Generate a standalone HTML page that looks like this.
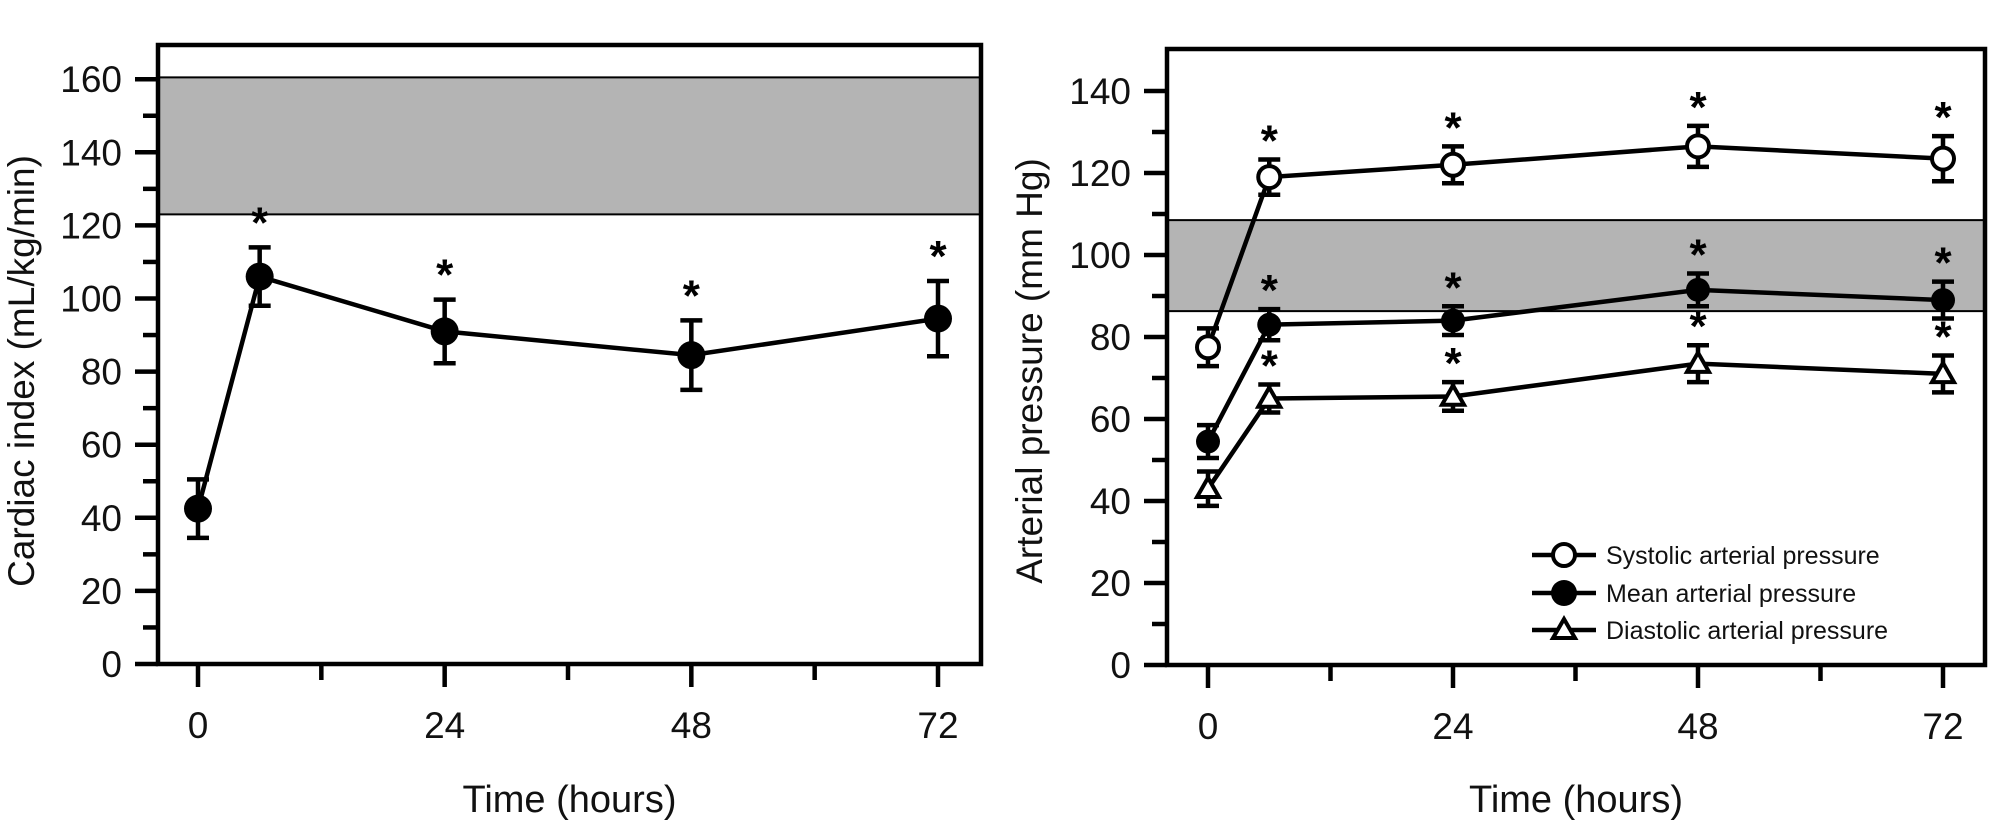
<!DOCTYPE html>
<html><head><meta charset="utf-8"><style>
html,body{margin:0;padding:0;background:#fff;}
svg{display:block;font-family:"Liberation Sans",Arial,sans-serif;}
</style></head><body>
<svg id="chart" width="2008" height="838" viewBox="0 0 2008 838" xmlns="http://www.w3.org/2000/svg">
</svg>
<script>
const hours = [0, 6, 24, 48, 72];
const ciMean = [42.5, 106, 91, 84.5, 94.5];
const ciErr = [8, 8, 8.7, 9.5, 10.3];
const ciSig = [false, true, true, true, true];
const ciBand = [123, 160.5];
const yTicksLeft = [0, 20, 40, 60, 80, 100, 120, 140, 160];
const yTicksRight = [0, 20, 40, 60, 80, 100, 120, 140];
const xTickLabels = [0, 24, 48, 72];
const sysMean = [77.5, 119, 122, 126.5, 123.5];
const sysErr = [4.6, 4.3, 4.5, 5, 5.5];
const mapMean = [54.5, 83, 84, 91.5, 89];
const mapErr = [4, 3.8, 3.5, 4, 4.5];
const diaMean = [43, 65, 65.5, 73.5, 71];
const diaErr = [4.2, 3.4, 3.5, 4.5, 4.5];
const apSig = [false, true, true, true, true];
const apBand = [86.3, 108.5];
const legendLabels = ["Systolic arterial pressure", "Mean arterial pressure", "Diastolic arterial pressure"];

const NS = "http://www.w3.org/2000/svg";
const svg = document.getElementById("chart");
function mk(tag, attrs, parent) {
  const e = document.createElementNS(NS, tag);
  for (const k in attrs) e.setAttribute(k, attrs[k]);
  (parent || svg).appendChild(e);
  return e;
}

function panel(cfg) {
  const g = mk("g", {});
  
  
  const X = h => cfg.x0 + (h / 72) * (cfg.x72 - cfg.x0);
  const Y = v => cfg.y0 - v * cfg.k;
  const band = mk("rect", {x: cfg.left, y: Y(cfg.band[1]), width: cfg.right - cfg.left, height: Y(cfg.band[0]) - Y(cfg.band[1]), fill: "#b4b4b4"}, g);
  
  
  for (const b of cfg.band) mk("line", {x1: cfg.left, x2: cfg.right, y1: Y(b), y2: Y(b), stroke: "#000", "stroke-width": 2}, g);
  const fr = mk("rect", {x: cfg.left, y: cfg.top, width: cfg.right - cfg.left, height: cfg.y0 - cfg.top, fill: "none", stroke: "#000", "stroke-width": 4.5}, g);
  
  
  const maxV = cfg.yTicks[cfg.yTicks.length - 1];
  for (let v = 0; v <= maxV; v += 10) {
    const major = v % 20 === 0;
    mk("line", {x1: cfg.left - (major ? 23 : 15), x2: cfg.left, y1: Y(v), y2: Y(v), stroke: "#000", "stroke-width": 4.5}, g);
  }
  for (const v of cfg.yTicks) {
    const t = mk("text", {x: cfg.left - 36, y: Y(v) + 13, "text-anchor": "end", "font-size": 37, fill: "#111"}, g);
    t.textContent = v;
    
    
  }
  for (let h = 0; h <= 72; h += 12) {
    const major = h % 24 === 0;
    mk("line", {x1: X(h), x2: X(h), y1: cfg.y0, y2: cfg.y0 + (major ? 23 : 16), stroke: "#000", "stroke-width": 4.5}, g);
  }
  for (const h of xTickLabels) {
    const t = mk("text", {x: X(h), y: cfg.y0 + 74, "text-anchor": "middle", "font-size": 37, fill: "#111"}, g);
    t.textContent = h;
    
    
  }
  const xt = mk("text", {x: (cfg.left + cfg.right) / 2, y: 812, "text-anchor": "middle", "font-size": 38, fill: "#111"}, g);
  xt.textContent = "Time (hours)";
  
  
  const yt = mk("text", {x: 0, y: 0, "text-anchor": "middle", "font-size": 37, fill: "#111", transform: `translate(${cfg.ytx},${cfg.yty}) rotate(-90)`}, g);
  yt.textContent = cfg.ytitle;
  
  

  for (const s of cfg.series) {
    const sg = mk("g", {}, g);
    
    
    const pts = hours.map((h, i) => X(h) + "," + Y(s.vals[i])).join(" ");
    mk("polyline", {points: pts, fill: "none", stroke: "#000", "stroke-width": 4.5}, sg);
    hours.forEach((h, i) => {
      const x = X(h), v = s.vals[i], e = s.err[i];
      const eb = mk("path", {d: `M${x},${Y(v + e)}V${Y(v - e)}M${x - 11},${Y(v + e)}H${x + 11}M${x - 11},${Y(v - e)}H${x + 11}`, stroke: "#000", "stroke-width": 4.5, fill: "none"}, sg);
      
      
      let m;
      if (s.marker === "tri") {
        const y = Y(v), r = 11;
        m = mk("polygon", {points: `${x},${y - r} ${x - r},${y + r * 0.75} ${x + r},${y + r * 0.75}`, fill: "#fff", stroke: "#000", "stroke-width": 4}, sg);
      } else {
        m = mk("circle", {cx: x, cy: Y(v), r: s.r, fill: s.marker === "open" ? "#fff" : "#000", stroke: "#000", "stroke-width": s.marker === "open" ? 4 : 0}, sg);
      }
      
      
      if (s.sig[i]) {
        const a = mk("text", {x: x, y: Y(v + e) - cfg.astOff + 20, "text-anchor": "middle", "font-size": 44, "font-weight": "bold", fill: "#000"}, sg);
        a.textContent = "*";
        
        
      }
    });
  }
}

panel({name: "cardiac-index-panel", left: 158, right: 981, top: 45, y0: 664, k: 3.655, x0: 198, x72: 938,
  band: ciBand, yTicks: yTicksLeft, ytitle: "Cardiac index (mL/kg/min)", ytx: 34, yty: 371, astOff: 30,
  series: [{name: "cardiac-index-series", vals: ciMean, err: ciErr, sig: ciSig, marker: "filled", r: 14}]});

panel({name: "arterial-pressure-panel", left: 1167, right: 1985, top: 49, y0: 665, k: 4.1, x0: 1208, x72: 1943,
  band: apBand, yTicks: yTicksRight, ytitle: "Arterial pressure (mm Hg)", ytx: 1042, yty: 371, astOff: 24,
  series: [
    {name: "systolic-series", vals: sysMean, err: sysErr, sig: apSig, marker: "open", r: 11},
    {name: "mean-series", vals: mapMean, err: mapErr, sig: apSig, marker: "filled", r: 12},
    {name: "diastolic-series", vals: diaMean, err: diaErr, sig: apSig, marker: "tri", r: 11}
  ]});

const lg = mk("g", {});


const rowsY = [555, 593, 630];
legendLabels.forEach((lab, i) => {
  const y = rowsY[i];
  const eg = mk("g", {}, lg);
  
  
  mk("line", {x1: 1532, x2: 1596, y1: y, y2: y, stroke: "#000", "stroke-width": 4.5}, eg);
  if (i === 2) {
    mk("polygon", {points: `1564,${y - 11} 1553,${y + 8} 1575,${y + 8}`, fill: "#fff", stroke: "#000", "stroke-width": 4}, eg);
  } else {
    mk("circle", {cx: 1564, cy: y, r: i === 0 ? 11 : 13, fill: i === 0 ? "#fff" : "#000", stroke: "#000", "stroke-width": i === 0 ? 4 : 0}, eg);
  }
  const t = mk("text", {x: 1606, y: y + 9, "font-size": 25, fill: "#111"}, eg);
  t.textContent = lab;
});
</script>
</body></html>
